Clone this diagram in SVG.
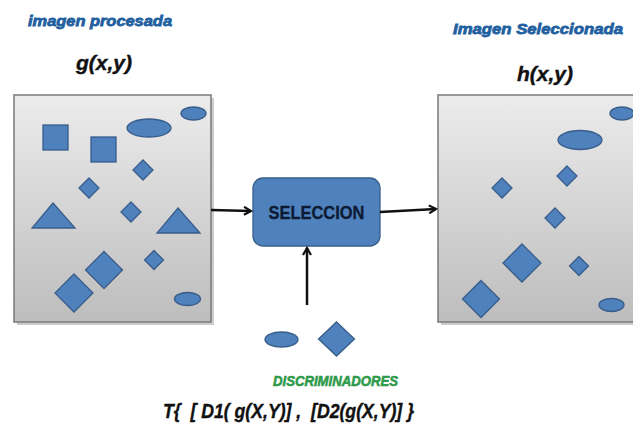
<svg xmlns="http://www.w3.org/2000/svg" width="633" height="428" viewBox="0 0 633 428">
<style>
.shape{fill:#4f81bd;stroke:#385d8a;stroke-width:1.3}
.panel{fill:url(#gray);stroke:#7a7a7a;stroke-width:1.5}
.title{font-family:"Liberation Sans",Arial,sans-serif;font-weight:bold;font-style:italic;fill:#1f5f9f;stroke:#1f5f9f;stroke-width:0.8}
.fn{font-family:"Liberation Sans",Arial,sans-serif;font-weight:bold;font-style:italic;fill:#111;stroke:#111;stroke-width:0.4}
.conn{stroke:#111;stroke-width:2.5;fill:none}
</style>
<defs>
<linearGradient id="gray" x1="0" y1="0" x2="0" y2="1">
<stop offset="0" stop-color="#ececec"/>
<stop offset="1" stop-color="#bdbdbd"/>
</linearGradient>
<marker id="arr" markerWidth="10" markerHeight="10" refX="8" refY="5" orient="auto" markerUnits="userSpaceOnUse">
<path d="M1,1 L8,5 L1,9" fill="none" stroke="#111" stroke-width="2.2"/>
</marker>
</defs>
<rect width="633" height="428" fill="#fff"/>

<text class="title" x="28" y="26" font-size="15" textLength="144" lengthAdjust="spacingAndGlyphs">imagen procesada</text>
<text class="title" x="453" y="34" font-size="15" textLength="170" lengthAdjust="spacingAndGlyphs">Imagen Seleccionada</text>
<text class="fn" x="104" y="70" font-size="21" text-anchor="middle">g(x,y)</text>
<text class="fn" x="545" y="81" font-size="21" text-anchor="middle">h(x,y)</text>

<g id="imagen-procesada">
<rect x="17" y="98" width="197" height="227" fill="#9a9a9a" opacity="0.5"/>
<rect class="panel" x="14" y="95" width="197" height="227"/>
<rect class="shape" x="43" y="125" width="25" height="25"/>
<rect class="shape" x="91" y="137" width="25" height="25"/>
<ellipse class="shape" cx="149" cy="128" rx="22" ry="9"/>
<ellipse class="shape" cx="193.5" cy="113.5" rx="12.5" ry="6.5"/>
<polygon class="shape" points="143,160 153,170 143,180 133,170"/>
<polygon class="shape" points="89,178 99,188 89,198 79,188"/>
<polygon class="shape" points="53,203 75,228 32,228"/>
<polygon class="shape" points="131,202 141,212 131,222 121,212"/>
<polygon class="shape" points="178,208 200,233 157,233"/>
<polygon class="shape" points="154,250.5 163.5,260 154,269.5 144.5,260"/>
<polygon class="shape" points="104,251.5 122.5,270 104,288.5 85.5,270"/>
<polygon class="shape" points="74,274 93,293 74,312 55,293"/>
<ellipse class="shape" cx="187.5" cy="299" rx="13" ry="6.5"/>
</g>

<g id="imagen-seleccionada">
<rect x="441" y="98" width="200" height="227" fill="#9a9a9a" opacity="0.5"/>
<rect class="panel" x="438" y="95" width="200" height="227"/>
<ellipse class="shape" cx="622" cy="113.5" rx="12" ry="6.5"/>
<ellipse class="shape" cx="580" cy="140" rx="22" ry="9.5"/>
<polygon class="shape" points="567,166 577,176 567,186 557,176"/>
<polygon class="shape" points="502,178 512,188 502,198 492,188"/>
<polygon class="shape" points="555,208 565,218 555,228 545,218"/>
<polygon class="shape" points="522,244 541,263 522,282 503,263"/>
<polygon class="shape" points="579,256.5 588.5,266 579,275.5 569.5,266"/>
<polygon class="shape" points="481,280.5 499.5,299 481,317.5 462.5,299"/>
<ellipse class="shape" cx="611.5" cy="305" rx="12.5" ry="6.5"/>
</g>

<g id="seleccion">
<rect x="253" y="178" width="127" height="68" rx="10" fill="#4f81bd" stroke="#385d8a" stroke-width="1.3"/>
<text x="316.5" y="219" font-family="'Liberation Sans',Arial,sans-serif" font-weight="bold" font-size="18" fill="#0d1a33" stroke="#0d1a33" stroke-width="0.3" text-anchor="middle" textLength="96" lengthAdjust="spacingAndGlyphs">SELECCION</text>
</g>

<g id="discriminadores">
<ellipse class="shape" cx="281.5" cy="339.5" rx="16.5" ry="7.5"/>
<polygon class="shape" points="336.5,322 354.5,339 336.5,356 318.5,339"/>
<text x="273" y="386" font-family="'Liberation Sans',Arial,sans-serif" font-weight="bold" font-style="italic" font-size="15" fill="#2e9a4a" stroke="#2e9a4a" stroke-width="0.6" textLength="125" lengthAdjust="spacingAndGlyphs">DISCRIMINADORES</text>
<text class="fn" x="163" y="418" font-size="21" xml:space="preserve" style="white-space:pre" textLength="251" lengthAdjust="spacingAndGlyphs">T{  [ D1( g(X,Y)] ,  [D2(g(X,Y)] }</text>
</g>

<g id="connectors">
<line class="conn" x1="211" y1="210" x2="251" y2="211" marker-end="url(#arr)"/>
<line class="conn" x1="380" y1="212" x2="436" y2="209" marker-end="url(#arr)"/>
<line class="conn" x1="307" y1="305" x2="307" y2="248" marker-end="url(#arr)"/>
</g>
</svg>
